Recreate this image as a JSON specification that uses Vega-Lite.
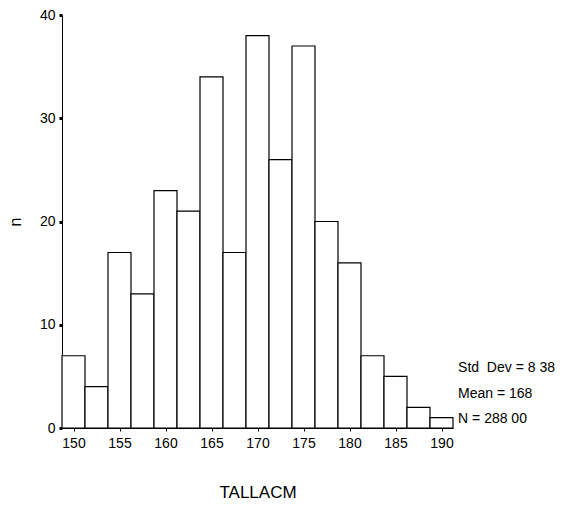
{
  "$schema": "https://vega.github.io/schema/vega-lite/v6.json",
  "width": 391,
  "height": 413,
  "autosize": {"type": "none"},
  "padding": {"left": 62, "top": 15, "right": 111, "bottom": 78},
  "background": "white",
  "config": {
    "view": {"stroke": null},
    "font": "Liberation Sans",
    "axis": {"grid": false, "domainColor": "black", "tickColor": "black", "labelColor": "black", "titleColor": "black", "labelFont": "Liberation Sans", "titleFont": "Liberation Sans", "titleFontWeight": "normal"}
  },
  "layer": [
    {
      "data": {"values": [
        {"start": 148.75, "end": 151.25, "n": 7},
        {"start": 151.25, "end": 153.75, "n": 4},
        {"start": 153.75, "end": 156.25, "n": 17},
        {"start": 156.25, "end": 158.75, "n": 13},
        {"start": 158.75, "end": 161.25, "n": 23},
        {"start": 161.25, "end": 163.75, "n": 21},
        {"start": 163.75, "end": 166.25, "n": 34},
        {"start": 166.25, "end": 168.75, "n": 17},
        {"start": 168.75, "end": 171.25, "n": 38},
        {"start": 171.25, "end": 173.75, "n": 26},
        {"start": 173.75, "end": 176.25, "n": 37},
        {"start": 176.25, "end": 178.75, "n": 20},
        {"start": 178.75, "end": 181.25, "n": 16},
        {"start": 181.25, "end": 183.75, "n": 7},
        {"start": 183.75, "end": 186.25, "n": 5},
        {"start": 186.25, "end": 188.75, "n": 2},
        {"start": 188.75, "end": 191.25, "n": 1}
      ]},
      "mark": {"type": "rect", "fill": "white", "stroke": "black", "strokeWidth": 1.2},
      "encoding": {
        "x": {"field": "start", "type": "quantitative",
          "scale": {"domain": [148.75, 191.25], "nice": false, "zero": false},
          "axis": {"title": "TALLACM", "titleFontSize": 17, "titlePadding": 34,
            "values": [150, 152.5, 155, 157.5, 160, 162.5, 165, 167.5, 170, 172.5, 175, 177.5, 180, 182.5, 185, 187.5, 190],
            "labelExpr": "datum.value % 5 === 0 ? datum.label : ''",
            "labelFontSize": 14, "tickSize": 3, "labelPadding": 5, "domain": true}},
        "x2": {"field": "end"},
        "y": {"field": "n", "type": "quantitative",
          "scale": {"domain": [0, 40], "nice": false},
          "axis": {"title": "n", "titleFontSize": 16, "titlePadding": 16, "values": [0, 10, 20, 30, 40],
            "labelFontSize": 14, "tickSize": 3, "tickWidth": 3, "labelPadding": 4}},
        "y2": {"datum": 0}
      }
    },
    {
      "data": {"values": [{"stats": "Std\u00a0 Dev = 8 38|Mean = 168|N = 288 00"}]},
      "mark": {"type": "text", "align": "left", "baseline": "middle", "fontSize": 14, "lineHeight": 25.5, "lineBreak": "|", "clip": false, "color": "black"},
      "encoding": {
        "x": {"datum": 191.8},
        "y": {"datum": 5.8},
        "text": {"field": "stats"}
      }
    }
  ]
}
